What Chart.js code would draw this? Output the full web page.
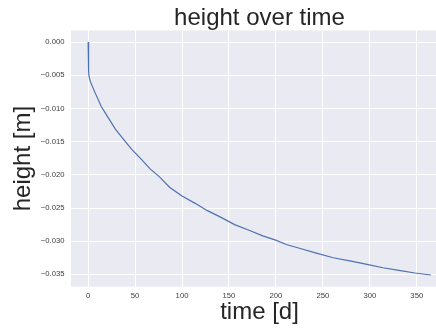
<!DOCTYPE html>
<html lang="en">
<head>
    <meta charset="UTF-8">
    <title>height over time</title>
    <script src="https://cdn.jsdelivr.net/npm/chart.js"></script>
    <style>
        html, body {
            margin: 0;
            padding: 0;
            background: #ffffff;
            overflow: hidden;
        }
        #heightChart {
            display: block;
        }
    </style>
</head>
<body>
    <canvas id="heightChart" width="448" height="331"></canvas>
    <script>
        // time in days, height in metres
        const days = [0, 0.5, 1, 2.5, 7, 14, 21, 29, 39, 46, 57, 66, 76, 87, 100, 114, 127, 140, 156, 172,
                      186, 199, 211, 226, 243, 261, 280, 297, 314, 331, 348, 365];
        const heights = [0, -0.0045, -0.0052, -0.006, -0.0075, -0.0097, -0.0113, -0.0131, -0.0149, -0.0161,
                         -0.0177, -0.0191, -0.0203, -0.0219, -0.0232, -0.0243, -0.0254, -0.0263, -0.0275, -0.0284,
                         -0.0292, -0.0298, -0.0305, -0.0311, -0.0318, -0.0325, -0.0330, -0.0335, -0.0340, -0.0344,
                         -0.0348, -0.0351];
        const xTicks = [0, 50, 100, 150, 200, 250, 300, 350];
        const yTicks = [0, -0.005, -0.01, -0.015, -0.02, -0.025, -0.03, -0.035];

        const points = days.map((d, i) => ({ x: d, y: heights[i] }));

        const textColor = '#262626';
        const tickColor = '#3c3c3c';
        const family = '"Liberation Sans", Arial, sans-serif';

        // seaborn-like grey panel behind the grid
        const panelBg = {
            id: 'panelBg',
            beforeDraw(chart) {
                const { ctx, chartArea: a } = chart;
                ctx.save();
                ctx.fillStyle = '#EAEAF2';
                ctx.fillRect(a.left, a.top, a.right - a.left, a.bottom - a.top);
                ctx.restore();
            }
        };

        const fmtY = v => Math.abs(v) < 1e-9 ? '0.000' : (v < 0 ? '\u2212' : '') + Math.abs(v).toFixed(3);

        new Chart(document.getElementById('heightChart'), {
            type: 'line',
            data: {
                datasets: [{
                    data: points,
                    borderColor: '#4C72B0',
                    borderWidth: 1.2,
                    pointRadius: 0,
                    tension: 0,
                    fill: false
                }]
            },
            options: {
                responsive: false,
                animation: false,
                layout: { padding: 0 },
                plugins: {
                    legend: { display: false },
                    tooltip: { enabled: false },
                    title: {
                        display: true,
                        text: 'height over time',
                        fullSize: false,
                        color: textColor,
                        font: { family: family, size: 24, weight: 'normal', lineHeight: 1 },
                        padding: { top: 6.5, bottom: 0 }
                    }
                },
                scales: {
                    x: {
                        type: 'linear',
                        min: -18.25,
                        max: 383.25,
                        afterBuildTicks: s => { s.ticks = xTicks.map(v => ({ value: v })); },
                        afterFit: s => { s.height = 44.3; },
                        grid: { color: '#ffffff', lineWidth: 1, drawTicks: false },
                        border: { display: false },
                        ticks: {
                            color: tickColor,
                            padding: 5,
                            maxRotation: 0,
                            font: { family: family, size: 7.7 },
                            callback: v => String(v)
                        },
                        title: {
                            display: true,
                            text: 'time [d]',
                            color: textColor,
                            font: { family: family, size: 24, lineHeight: 1.2 },
                            padding: { top: 0, bottom: 4 }
                        }
                    },
                    y: {
                        type: 'linear',
                        min: -0.03686,
                        max: 0.00175,
                        afterBuildTicks: s => { s.ticks = yTicks.map(v => ({ value: v })); },
                        afterFit: s => { s.width = 71; },
                        grid: { color: '#ffffff', lineWidth: 1, drawTicks: false },
                        border: { display: false },
                        ticks: {
                            color: tickColor,
                            padding: 6.5,
                            font: { family: family, size: 7.7 },
                            callback: fmtY
                        },
                        title: {
                            display: true,
                            text: 'height [m]',
                            color: textColor,
                            font: { family: family, size: 24, lineHeight: 1.2 },
                            padding: { top: 9, bottom: 0 }
                        }
                    }
                }
            },
            plugins: [panelBg]
        });
    </script>
</body>
</html>
